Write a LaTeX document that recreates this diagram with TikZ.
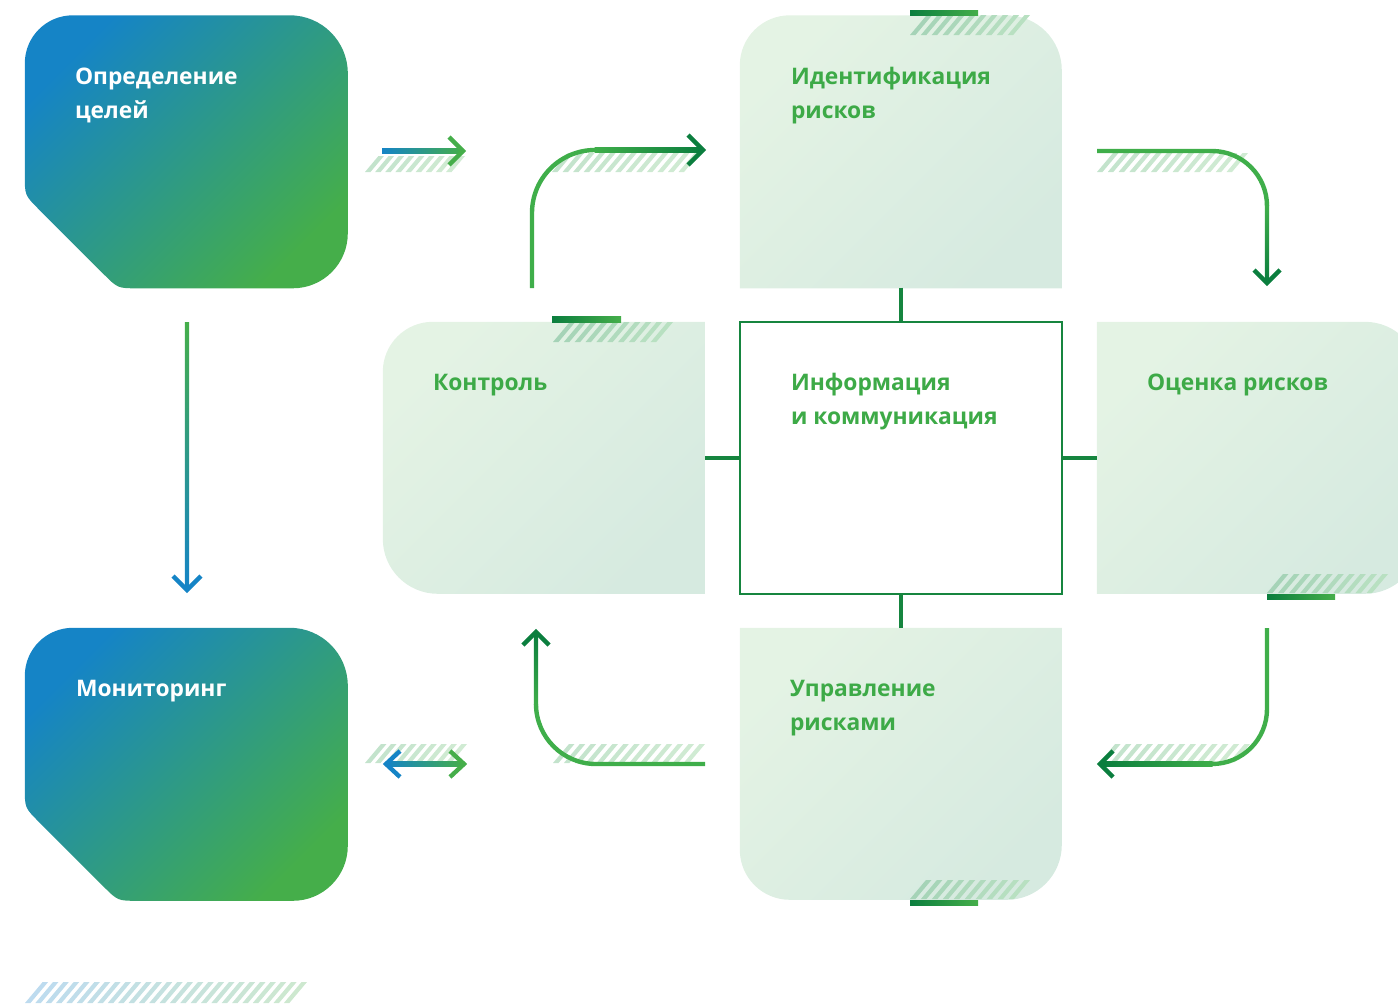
\documentclass[tikz,border=0pt]{standalone}
\usepackage{fontspec}
\setmainfont{Open Sans}
\definecolor{cblue}{HTML}{1584C6}
\definecolor{cgreen}{HTML}{45AE4A}
\definecolor{cdark}{HTML}{0B7E3E}
\definecolor{clight}{HTML}{3FAE4A}
\definecolor{ctext}{HTML}{3DAA47}
\definecolor{boxa}{HTML}{E4F3E4}
\definecolor{boxb}{HTML}{D6EAE0}
\definecolor{conn}{HTML}{16853F}
\definecolor{hw1}{HTML}{C3E3CC}
\definecolor{hw2}{HTML}{D0EBD3}
\definecolor{hb1}{HTML}{A5D3B7}
\definecolor{hb2}{HTML}{B8E0C1}
\definecolor{hblue}{HTML}{BDDBEF}
\definecolor{hgreen}{HTML}{CDE8CF}
\newcommand\hatchbar[6]{%
  \pgfmathsetmacro\hd{0.84*(#4-#2)}%
  \pgfmathtruncatemacro\hn{round((#3-#1-\hd-5.5)/10.5)}%
  \pgfmathsetmacro\hpd{(#3-#1-\hd-5.5)/\hn}%
  \foreach \k in {0,...,\hn}{%
    \pgfmathtruncatemacro\hp{100-100*\k/max(\hn,1)}%
    \fill[#5!\hp!#6] ({#1+\hpd*\k},#4) -- ++(5.5,0) -- ++({\hd},{#2-#4}) -- ++(-5.5,0) -- cycle;}}
\tikzset{
  boxn/.style={rectangle,draw=none,inner sep=0pt,minimum width=#1,minimum height=272pt},
  txtw/.style={anchor=base west,inner sep=0pt,text=white,font=\fontsize{22.8}{28}\selectfont\bfseries},
  txtg/.style={anchor=base west,inner sep=0pt,text=ctext,font=\fontsize{22.8}{28}\selectfont\bfseries},
  gradbox/.style={top color=cblue,bottom color=cgreen,shading angle=45},
  lightbox/.style={top color=boxa,bottom color=boxb,shading angle=45},
  aline/.style={line width=4.4pt,line cap=butt},
  chev/.style={line width=4.4pt,line cap=butt,line join=miter},
  connl/.style={conn,line width=3.5pt}
}
\begin{document}
\begin{tikzpicture}[x=1pt,y=-1pt]
\useasboundingbox (0,0) rectangle (1398,1004);
% ---------- named boxes ----------
\node[boxn=323pt] (goal)  at (186.5,151.5) {};
\node[boxn=323pt] (monit) at (186.5,764) {};
\node[boxn=322pt] (ident) at (901,151.5) {};
\node[boxn=322pt] (ctrl)  at (544,458) {};
\node[boxn=322pt] (info)  at (901,458) {};
\node[boxn=323pt] (eval)  at (1258.5,458) {};
\node[boxn=322pt] (mgmt)  at (901,764) {};
% ---------- gradient boxes ----------
\foreach \b in {goal,monit}{
\begin{scope}[shift={(\b.north west)}]
\shade[gradbox] (0,48) .. controls (0,21.5) and (21.5,0) .. (48,0) -- (265,0)
  .. controls (297,0) and (323,26) .. (323,58) -- (323,218)
  .. controls (323,248.4) and (298.4,273) .. (268,273) -- (113,273)
  .. controls (93,273) .. (78.9,258.9) -- (14.1,194.1)
  .. controls (0,180) .. (0,160) -- cycle;
\end{scope}}
% ---------- light boxes ----------
\begin{scope}[shift={(ident.north west)}]
\shade[lightbox] (0,273) -- (0,50) .. controls (0,22.4) and (22.4,0) .. (50,0) -- (267,0)
  .. controls (297.4,0) and (322,24.6) .. (322,55) -- (322,273) -- cycle;
\end{scope}
\begin{scope}[shift={(ctrl.north west)}]
\shade[lightbox] (322,0) -- (50,0) .. controls (22.4,0) and (0,22.4) .. (0,50) -- (0,217)
  .. controls (0,247.4) and (24.6,272) .. (55,272) -- (322,272) -- cycle;
\end{scope}
\begin{scope}
\clip (0,0) rectangle (1398,1004);
\begin{scope}[shift={(eval.north west)}]
\shade[lightbox] (0,0) -- (268,0) .. controls (298.4,0) and (323,24.6) .. (323,55) -- (323,217)
  .. controls (323,247.4) and (298.4,272) .. (268,272) -- (0,272) -- cycle;
\end{scope}
\end{scope}
\begin{scope}[shift={(mgmt.north west)}]
\shade[lightbox] (0,0) -- (322,0) -- (322,217) .. controls (322,247.4) and (297.4,272) .. (267,272)
  -- (50,272) .. controls (22.4,272) and (0,249.6) .. (0,222) -- cycle;
\end{scope}
\draw[conn,line width=2pt,fill=white] (info.north west) rectangle (info.south east);
% ---------- hatches on boxes and bars ----------
\hatchbar{910}{15}{1030}{35}{hb1}{hb2}
\hatchbar{553}{322}{673}{342}{hb1}{hb2}
\hatchbar{1267}{574}{1388}{593}{hb1}{hb2}
\hatchbar{910}{880}{1030}{899}{hb1}{hb2}
\shade[left color=cdark,right color=cgreen] (910,10) rectangle (978,15.5);
\shade[left color=cdark,right color=cgreen] (552,316.5) rectangle (621,322);
\shade[left color=cdark,right color=cgreen] (1267,594) rectangle (1335,599.5);
\shade[left color=cdark,right color=cgreen] (910,900) rectangle (978,905.5);
% ---------- hatches under arrows ----------
\hatchbar{365}{156}{465}{172}{hw1}{hw2}
\hatchbar{552}{153}{700}{172}{hw1}{hw2}
\hatchbar{1097}{153}{1248}{172}{hw1}{hw2}
\hatchbar{1100}{744}{1250}{762}{hw1}{hw2}
\hatchbar{553}{744}{705}{763}{hw1}{hw2}
\hatchbar{365}{744}{467}{763}{hw1}{hw2}
\hatchbar{25}{982}{307}{1003}{hblue}{hgreen}
% ---------- connectors to the centre ----------
\draw[connl] (ident.south) -- (info.north);
\draw[connl] (info.south) -- (mgmt.north);
\draw[connl] (ctrl.east) -- (info.west);
\draw[connl] (info.east) -- (eval.west);
% ---------- arrows ----------
% goal -> ident
\coordinate (a1s) at (382,151); \coordinate (a1e) at (463,151);
\shade[left color=cblue,right color=cgreen] (a1s) ++(0,-2.2) rectangle ([yshift=-2.2pt]a1e);
\draw[chev,cgreen] (a1e) ++(-14,-14) -- (a1e) -- ++(-14,14);
% ctrl -> ident
\coordinate (a2s) at (532,288); \coordinate (a2e) at (703,150);
\draw[aline,clight] (a2s) -- (532,213) .. controls (532,178.2) and (560.2,150) .. (595,150);
\shade[left color=clight,right color=cdark] (594.5,147.8) rectangle (701,152.2);
\draw[chev,cdark] (a2e) ++(-15,-15) -- (a2e) -- ++(-15,15);
% ident -> eval
\coordinate (a3s) at (1097,151); \coordinate (a3e) at (1267,283);
\draw[aline,clight] (a3s) -- (1212,151) .. controls (1242.4,151) and (1267,175.6) .. (1267,206);
\shade[top color=clight,bottom color=cdark] (1264.8,205.5) rectangle (1269.2,281);
\draw[chev,cdark] (a3e) ++(-13,-13) -- (a3e) -- ++(13,-13);
% eval -> mgmt
\coordinate (a4s) at (1267,628); \coordinate (a4e) at (1100,764);
\draw[aline,clight] (a4s) -- (1267,709) .. controls (1267,739.4) and (1242.4,764) .. (1212,764);
\shade[left color=cdark,right color=clight] (1102,761.8) rectangle (1212.5,766.2);
\draw[chev,cdark] (a4e) ++(13,-13) -- (a4e) -- ++(13,13);
% mgmt -> ctrl
\coordinate (a5s) at (705,764); \coordinate (a5e) at (536,632);
\draw[aline,clight] (a5s) -- (596,764) .. controls (562.9,764) and (536,737.1) .. (536,704);
\shade[top color=cdark,bottom color=clight] (533.8,634) rectangle (538.2,704.5);
\draw[chev,cdark] (a5e) ++(-13,13) -- (a5e) -- ++(13,13);
% monit <-> ctrl
\coordinate (a6s) at (386,764); \coordinate (a6e) at (464,764);
\shade[left color=cblue,right color=cgreen] (a6s) ++(0,-2.2) rectangle ([yshift=-2.2pt]a6e);
\draw[chev,cblue] (a6s) ++(14,-13) -- (a6s) -- ++(14,13);
\draw[chev,cgreen] (a6e) ++(-14,-13) -- (a6e) -- ++(-14,13);
% goal -> monit
\coordinate (a7s) at (187,322); \coordinate (a7e) at (187,590);
\shade[top color=cgreen,bottom color=cblue] (a7s) ++(-2.2,0) rectangle ([xshift=2.2pt,yshift=2pt]a7e);
\draw[chev,cblue] (a7e) ++(-14,-14) -- (a7e) -- ++(14,-14);
% ---------- texts ----------
\node[txtw] (goal-l1) at ([shift={(50,69)}]goal.north west) {Определение};
\node[txtw] (goal-l2) at ([shift={(50,103)}]goal.north west) {целей};
\node[txtw] (monit-l1) at ([shift={(51,69)}]monit.north west) {Мониторинг};
\node[txtg] (ident-l1) at ([shift={(51,69)}]ident.north west) {Идентификация};
\node[txtg] (ident-l2) at ([shift={(51,103)}]ident.north west) {рисков};
\node[txtg] (ctrl-l1) at ([shift={(50,69)}]ctrl.north west) {Контроль};
\node[txtg] (info-l1) at ([shift={(51,69)}]info.north west) {Информация};
\node[txtg] (info-l2) at ([shift={(51,103)}]info.north west) {и коммуникация};
\node[txtg] (eval-l1) at ([shift={(50,69)}]eval.north west) {Оценка рисков};
\node[txtg] (mgmt-l1) at ([shift={(50,69)}]mgmt.north west) {Управление};
\node[txtg] (mgmt-l2) at ([shift={(50,103)}]mgmt.north west) {рисками};
\end{tikzpicture}
\end{document}
